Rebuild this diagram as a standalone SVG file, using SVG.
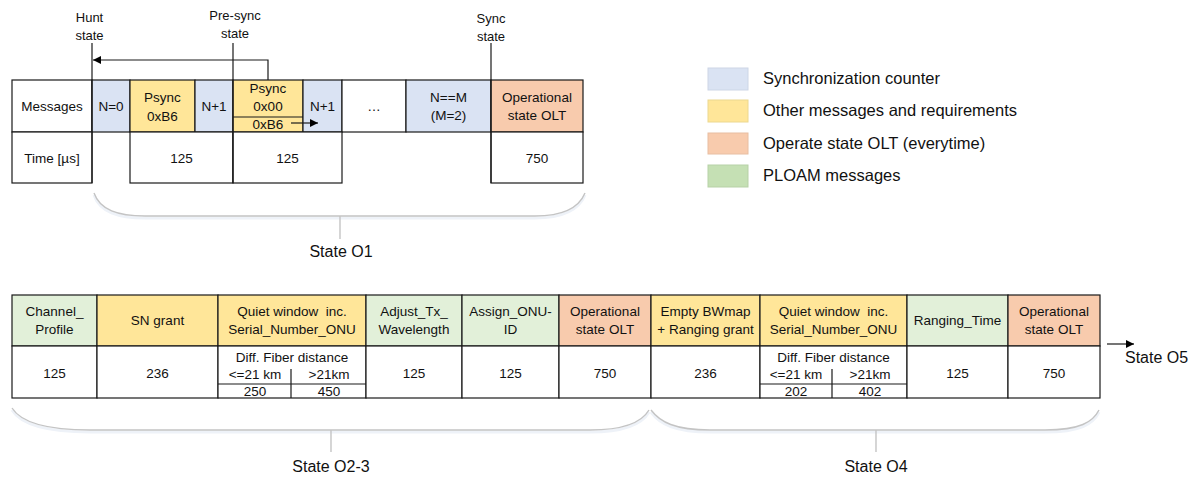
<svg xmlns="http://www.w3.org/2000/svg" width="1195" height="477" viewBox="0 0 1195 477">
<defs>
<style>
text{font-family:"Liberation Sans",Arial,sans-serif;fill:#111;}
.t{font-size:13.5px;text-anchor:middle;white-space:pre;}
.h{font-size:13px;text-anchor:middle;}
.lg{font-size:16.5px;}
.st{font-size:16px;text-anchor:middle;}
.c{stroke:#1a1a1a;stroke-width:1.2;}
.b{fill:#DAE3F3;}
.y{fill:#FFE699;}
.o{fill:#F8CBAD;}
.g{fill:#E2F0D9;}
.w{fill:#fff;}
.ln{stroke:#1a1a1a;stroke-width:1.2;fill:none;}
.br{stroke:#c4c4c4;stroke-width:1.4;fill:none;}
.sh{stroke:#eef2f8;stroke-width:3;fill:none;}
</style>
<marker id="ah" viewBox="0 0 10 10" refX="10" refY="5" markerWidth="8" markerHeight="8" markerUnits="userSpaceOnUse" orient="auto">
<path d="M0,0 L10,5 L0,10 Z" fill="#000"/>
</marker>
</defs>
<rect width="1195" height="477" fill="#fff"/>

<!-- Top table -->
<g id="top-table">
<g id="c-messages"><rect class="c w" x="12" y="80" width="80" height="52"/><text class="t" x="52" y="111">Messages</text></g>
<g id="c-n0"><rect class="c b" x="92" y="80" width="38" height="52"/><text class="t" x="111" y="111">N=0</text></g>
<g id="c-psync1"><rect class="c y" x="130" y="80" width="65" height="52"/><text class="t" x="162.5" y="102">Psync</text><text class="t" x="162.5" y="121">0xB6</text></g>
<g id="c-n1a"><rect class="c b" x="195" y="80" width="38" height="52"/><text class="t" x="214" y="111">N+1</text></g>
<g id="c-psync2"><rect class="c y" x="233" y="80" width="70" height="52"/><text class="t" x="268" y="93">Psync</text><text class="t" x="268" y="111">0x00</text><line class="ln" x1="233" y1="117" x2="303" y2="117"/><text class="t" x="268" y="129">0xB6</text></g>
<g id="c-n1b"><rect class="c b" x="303" y="80" width="39" height="52"/><text class="t" x="322.5" y="111">N+1</text></g>
<g id="c-dots"><rect class="c w" x="342" y="80" width="64" height="52"/><text class="t" x="374" y="111">…</text></g>
<g id="c-nm"><rect class="c b" x="406" y="80" width="85" height="52"/><text class="t" x="448.5" y="102">N==M</text><text class="t" x="448.5" y="120">(M=2)</text></g>
<g id="c-op1"><rect class="c o" x="491" y="80" width="92" height="52"/><text class="t" x="537" y="102">Operational</text><text class="t" x="537" y="120">state OLT</text></g>
<g id="c-time"><rect class="c w" x="12" y="132" width="80" height="51"/><text class="t" x="52" y="163">Time [µs]</text></g>
<g id="c-t125a"><rect class="c w" x="130" y="132" width="103" height="51"/><text class="t" x="181.5" y="163">125</text></g>
<g id="c-t125b"><rect class="c w" x="233" y="132" width="109" height="51"/><text class="t" x="287.5" y="163">125</text></g>
<g id="c-t750"><rect class="c w" x="491" y="132" width="92" height="51"/><text class="t" x="537" y="163">750</text></g>
</g>

<!-- State labels -->
<g id="hunt-state"><text class="h" x="89.5" y="21.5">Hunt</text><text class="h" x="89.5" y="39.5">state</text></g>
<g id="presync-state"><text class="h" x="235" y="19.5">Pre-sync</text><text class="h" x="235" y="37.5">state</text></g>
<g id="sync-state"><text class="h" x="491" y="23">Sync</text><text class="h" x="491" y="41">state</text></g>

<g id="connectors">
<line class="ln" x1="92" y1="43" x2="92" y2="183"/>
<line class="ln" x1="233" y1="43" x2="233" y2="183"/>
<line class="ln" x1="491" y1="43" x2="491" y2="183"/>
<polyline class="ln" points="268,80 268,60 93,60" marker-end="url(#ah)"/>
<line class="ln" x1="291" y1="123" x2="318" y2="123" marker-end="url(#ah)"/>
<line class="ln" x1="1107" y1="344" x2="1134" y2="344" marker-end="url(#ah)"/>
</g>

<!-- Legend -->
<g id="legend">
<g id="lg-sync"><rect x="708" y="68" width="40" height="22" fill="#DAE3F3" stroke="#cdd6e6"/><text class="lg" x="763" y="84">Synchronization counter</text></g>
<g id="lg-other"><rect x="708" y="100" width="40" height="22" fill="#FFE699" stroke="#ecd88f"/><text class="lg" x="763" y="116">Other messages and requirements</text></g>
<g id="lg-op"><rect x="708" y="133" width="40" height="21" fill="#F8CBAD" stroke="#e8bea2"/><text class="lg" x="763" y="149">Operate state OLT (everytime)</text></g>
<g id="lg-ploam"><rect x="708" y="165" width="40" height="22" fill="#C5E0B4" stroke="#b7d1a7"/><text class="lg" x="763" y="181">PLOAM messages</text></g>
</g>

<!-- Bottom table -->
<g id="bottom-table">
<g id="b-channel"><rect class="c g" x="12" y="295" width="85" height="51"/><text class="t" x="54.5" y="316">Channel_</text><text class="t" x="54.5" y="334">Profile</text><rect class="c w" x="12" y="346" width="85" height="52"/><text class="t" x="54.5" y="378">125</text></g>
<g id="b-sn"><rect class="c y" x="97" y="295" width="121" height="51"/><text class="t" x="157.5" y="325">SN grant</text><rect class="c w" x="97" y="346" width="121" height="52"/><text class="t" x="157.5" y="378">236</text></g>
<g id="b-quiet1"><rect class="c y" x="218" y="295" width="148" height="51"/><text class="t" x="292" y="316">Quiet window  inc.</text><text class="t" x="292" y="334">Serial_Number_ONU</text><rect class="c w" x="218" y="346" width="148" height="52"/><text class="t" x="292" y="362">Diff. Fiber distance</text><text class="t" x="255" y="379">&lt;=21 km</text><text class="t" x="329" y="379">&gt;21km</text><line class="ln" x1="218" y1="384" x2="366" y2="384"/><line class="ln" x1="291" y1="369" x2="291" y2="398"/><text class="t" x="255" y="396">250</text><text class="t" x="329" y="396">450</text></g>
<g id="b-adjust"><rect class="c g" x="366" y="295" width="96" height="51"/><text class="t" x="414" y="316">Adjust_Tx_</text><text class="t" x="414" y="334">Wavelength</text><rect class="c w" x="366" y="346" width="96" height="52"/><text class="t" x="414" y="378">125</text></g>
<g id="b-assign"><rect class="c g" x="462" y="295" width="97" height="51"/><text class="t" x="510.5" y="316">Assign_ONU-</text><text class="t" x="510.5" y="334">ID</text><rect class="c w" x="462" y="346" width="97" height="52"/><text class="t" x="510.5" y="378">125</text></g>
<g id="b-op1"><rect class="c o" x="559" y="295" width="92" height="51"/><text class="t" x="605" y="316">Operational</text><text class="t" x="605" y="334">state OLT</text><rect class="c w" x="559" y="346" width="92" height="52"/><text class="t" x="605" y="378">750</text></g>
<g id="b-empty"><rect class="c y" x="651" y="295" width="109" height="51"/><text class="t" x="705.5" y="316">Empty BWmap</text><text class="t" x="705.5" y="334">+ Ranging grant</text><rect class="c w" x="651" y="346" width="109" height="52"/><text class="t" x="705.5" y="378">236</text></g>
<g id="b-quiet2"><rect class="c y" x="760" y="295" width="147" height="51"/><text class="t" x="833.5" y="316">Quiet window  inc.</text><text class="t" x="833.5" y="334">Serial_Number_ONU</text><rect class="c w" x="760" y="346" width="147" height="52"/><text class="t" x="833.5" y="362">Diff. Fiber distance</text><text class="t" x="796" y="379">&lt;=21 km</text><text class="t" x="870" y="379">&gt;21km</text><line class="ln" x1="760" y1="384" x2="907" y2="384"/><line class="ln" x1="832" y1="369" x2="832" y2="398"/><text class="t" x="796" y="396">202</text><text class="t" x="870" y="396">402</text></g>
<g id="b-ranging"><rect class="c g" x="907" y="295" width="101" height="51"/><text class="t" x="957.5" y="325">Ranging_Time</text><rect class="c w" x="907" y="346" width="101" height="52"/><text class="t" x="957.5" y="378">125</text></g>
<g id="b-op2"><rect class="c o" x="1008" y="295" width="92" height="51"/><text class="t" x="1054" y="316">Operational</text><text class="t" x="1054" y="334">state OLT</text><rect class="c w" x="1008" y="346" width="92" height="52"/><text class="t" x="1054" y="378">750</text></g>
</g>

<g id="state-o5"><text x="1125" y="363" style="font-size:16px">State O5</text></g>

<!-- Braces -->
<g id="brace-o1">
<path class="sh" d="M94,195 C100,212 118,218 145,218 L535,218 C560,218 578,212 585,195"/>
<path class="br" d="M94,193 C100,210 118,216 145,216 L535,216 C560,216 578,210 585,193"/>
<line class="br" x1="340" y1="216" x2="340" y2="239"/>
<text class="st" x="341" y="257">State O1</text>
</g>
<g id="brace-o23">
<path class="sh" d="M12,410 C22,426 50,432 90,432 L590,432 C625,432 642,424 649,412"/>
<path class="br" d="M12,408 C22,424 50,430 90,430 L590,430 C625,430 642,422 649,410"/>
<line class="br" x1="331" y1="430" x2="331" y2="452"/>
<text class="st" x="331" y="472">State O2-3</text>
</g>
<g id="brace-o4">
<path class="sh" d="M651,412 C660,424 675,432 710,432 L1045,432 C1080,432 1093,424 1099,412"/>
<path class="br" d="M651,410 C660,422 675,430 710,430 L1045,430 C1080,430 1093,422 1099,410"/>
<line class="br" x1="876" y1="430" x2="876" y2="452"/>
<text class="st" x="876" y="472">State O4</text>
</g>
</svg>
